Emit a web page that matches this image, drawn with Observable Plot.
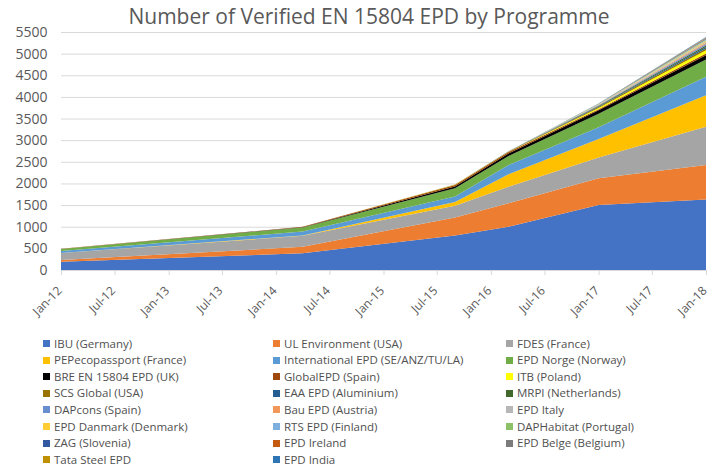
<!DOCTYPE html>
<html><head><meta charset="utf-8">
<script src="https://cdn.jsdelivr.net/npm/d3@7"></script>
<script src="https://cdn.jsdelivr.net/npm/@observablehq/plot@0.6"></script>
<style>
body{margin:0;background:#fff;font-family:"Open Sans",sans-serif;}
#wrap{position:relative;width:707px;height:467px;overflow:hidden;background:#fff;}
#title{position:absolute;left:369px;top:2px;transform:translateX(-50%);white-space:nowrap;font-size:21px;color:#595959;}
#chart{position:absolute;left:0;top:0;}
.lg{position:absolute;font-size:11.5px;color:#505050;white-space:nowrap;line-height:12px;height:12px;}
.lg i{position:absolute;left:0;top:2.5px;width:7px;height:7px;}
.lg span{position:absolute;left:11px;top:0;}
</style>
</head><body>
<div id="wrap">
  <div id="chart"></div>
  <div id="title">Number of Verified EN 15804 EPD by Programme</div>
  <div id="legend"></div>
</div>
<script>
// data point dates
const dates = ["2012-01-01", "2014-04-01", "2015-09-01", "2016-03-01", "2017-01-01", "2018-01-01"];
// series names (stack order, bottom to top)
const names = [
  "IBU (Germany)", "UL Environment (USA)", "FDES (France)",
  "PEPecopassport (France)", "International EPD (SE/ANZ/TU/LA)", "EPD Norge (Norway)",
  "BRE EN 15804 EPD (UK)", "GlobalEPD (Spain)", "ITB (Poland)",
  "SCS Global (USA)", "EAA EPD (Aluminium)", "MRPI (Netherlands)",
  "DAPcons (Spain)", "Bau EPD (Austria)", "EPD Italy",
  "EPD Danmark (Denmark)", "RTS EPD (Finland)", "DAPHabitat (Portugal)",
  "ZAG (Slovenia)", "EPD Ireland", "EPD Belge (Belgium)",
  "Tata Steel EPD", "EPD India"
];
const colors = [
  "#4472C4", "#ED7D31", "#A5A5A5", "#FFC000", "#5B9BD5", "#70AD47",
  "#000000", "#9E480E", "#FFFF00", "#997300", "#255E91", "#43682B",
  "#698ED0", "#F1975A", "#B7B7B7", "#FFCD33", "#7CAFDD", "#8CC168",
  "#335AA1", "#C55A11", "#7B7B7B", "#BF9000", "#2E75B6"
];
// values per series at each date
const ibu        = [190, 385, 800, 1000, 1500, 1630];
const ul         = [40, 150, 415, 540, 620, 795];
const fdes       = [160, 255, 270, 385, 480, 885];
const pep        = [0, 10, 85, 290, 430, 730];
const intl       = [50, 90, 130, 210, 270, 425];
const norge      = [45, 95, 190, 210, 310, 400];
const bre        = [0, 5, 40, 55, 80, 95];
const globalEpd  = [5, 10, 35, 35, 25, 45];
const itb        = [0, 0, 5, 10, 30, 75];
const scs        = [0, 0, 5, 5, 20, 40];
const eaa        = [0, 0, 0, 5, 15, 35];
const mrpi       = [0, 0, 0, 0, 15, 35];
const dapcons    = [0, 0, 0, 0, 10, 30];
const bau        = [0, 0, 0, 0, 10, 30];
const italy      = [0, 0, 0, 0, 10, 25];
const danmark    = [0, 0, 0, 0, 5, 20];
const rts        = [0, 0, 0, 0, 5, 20];
const daphabitat = [0, 0, 0, 0, 5, 15];
const zag        = [0, 0, 0, 0, 5, 15];
const ireland    = [0, 0, 0, 0, 0, 10];
const belge      = [0, 0, 0, 0, 0, 10];
const tata       = [0, 0, 0, 0, 0, 10];
const india      = [0, 0, 0, 0, 0, 10];
const seriesValues = [ibu, ul, fdes, pep, intl, norge, bre, globalEpd, itb, scs, eaa, mrpi,
  dapcons, bau, italy, danmark, rts, daphabitat, zag, ireland, belge, tata, india];

const xTickLabels = ["Jan-12","Jul-12","Jan-13","Jul-13","Jan-14","Jul-14","Jan-15","Jul-15","Jan-16","Jul-16","Jan-17","Jul-17","Jan-18"];
const yTicks = [0, 500, 1000, 1500, 2000, 2500, 3000, 3500, 4000, 4500, 5000, 5500];

const parseTick = d3.utcParse("%b-%y");
const xTicks = xTickLabels.map(parseTick);
const parseDate = d3.utcParse("%Y-%m-%d");

const rows = [];
names.forEach((name, s) => {
  dates.forEach((d, i) => rows.push({series: name, date: parseDate(d), value: seriesValues[s][i]}));
});

const chart = Plot.plot({
  width: 707,
  height: 320,
  marginLeft: 61,
  marginRight: 1,
  marginTop: 32,
  marginBottom: 50,
  style: {fontFamily: "Open Sans", background: "transparent", overflow: "visible", color: "#595959"},
  x: {type: "utc", domain: [xTicks[0], xTicks[xTicks.length - 1]], label: null},
  y: {domain: [0, 5500], label: null},
  color: {domain: names, range: colors},
  marks: [
    Plot.gridY(yTicks, {stroke: "#d9d9d9", strokeOpacity: 1}),
    Plot.areaY(rows, {x: "date", y: "value", fill: "series", z: "series"}),
    Plot.ruleY([0], {stroke: "#d9d9d9"}),
    Plot.axisX(xTicks, {tickSize: 5, tickFormat: () => "", stroke: "#d9d9d9", label: null}),
    Plot.text(xTicks, {x: d => d, frameAnchor: "bottom", text: (d, i) => xTickLabels[i],
      rotate: -45, textAnchor: "end", dx: 1, dy: 21, fontSize: 12, fill: "#595959"}),
    Plot.axisY(yTicks, {tickSize: 0, tickPadding: 14, fontSize: 14, fill: "#595959", label: null, tickFormat: d => String(d)})
  ]
});
document.getElementById("chart").appendChild(chart);

// legend
const legend = document.getElementById("legend");
const colX = [43, 273, 506];
names.forEach((name, i) => {
  const r = Math.floor(i / 3), c = i % 3;
  const el = document.createElement("div");
  el.className = "lg";
  el.style.left = colX[c] + "px";
  el.style.top = (343.5 + r * 16.6 - 6) + "px";
  el.innerHTML = `<i style="background:${colors[i]}"></i><span>${name}</span>`;
  legend.appendChild(el);
});
</script>
</body></html>
